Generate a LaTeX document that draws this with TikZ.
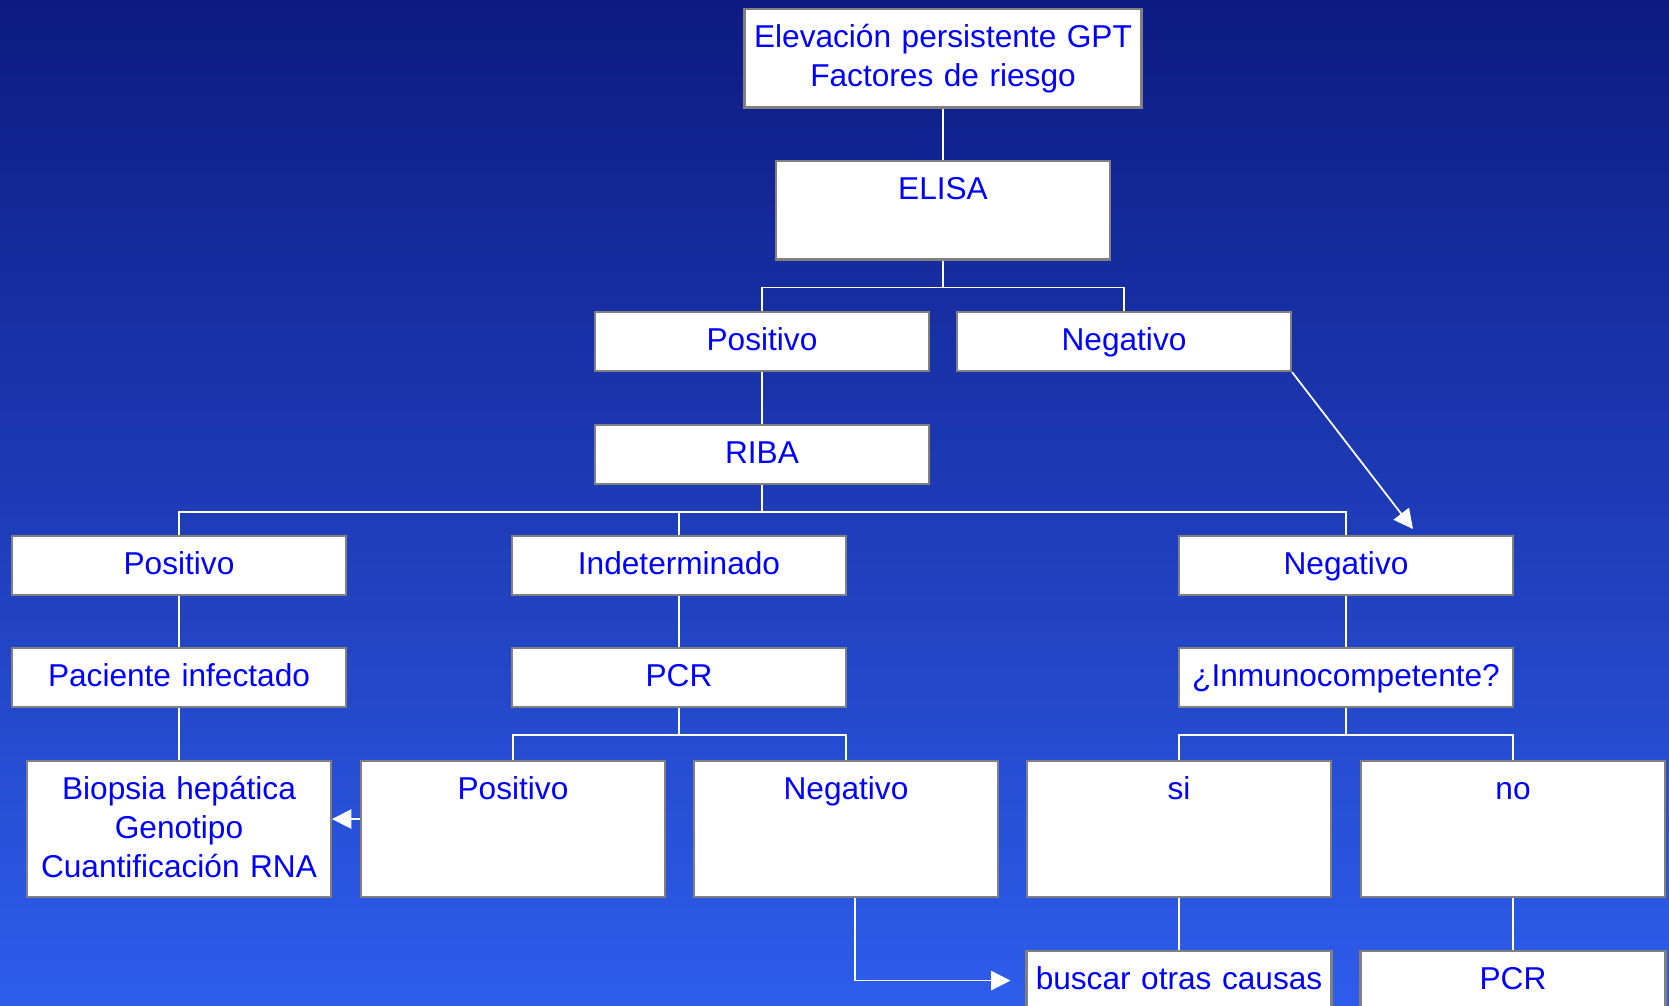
\documentclass[tikz,border=0pt]{standalone}
\usepackage{fontspec}
\setmainfont{Liberation Sans}
\usetikzlibrary{arrows.meta, calc}

\definecolor{bgtop}{RGB}{13,26,130}
\definecolor{bgbottom}{RGB}{46,93,236}
\definecolor{boxline}{RGB}{128,128,128}
\definecolor{boxtext}{RGB}{0,0,255}

\begin{document}
\begin{tikzpicture}[x=0.02cm, y=-0.02cm,
  box/.style={draw=boxline, line width=1.2pt, fill=white, text=boxtext,
    font=\fontsize{18}{22}\selectfont, align=center, anchor=north,
    inner xsep=4pt, inner ysep=8pt, text height=14pt, text depth=3.6pt,
    text width=6.4cm},
  tallbox/.style={box, text depth=26pt},
  bigbox/.style={box, text depth=47.4pt, text width=5.8cm},
  link/.style={draw=white, line width=1pt},
  arr/.style={link, -{Triangle[length=11pt, width=11pt]}}]
  \useasboundingbox (0,0) rectangle (1669,1005);
  % fondo degradado
  \shade[top color=bgtop, bottom color=bgbottom] (0,0) rectangle (1669,1005);

  % cajas (posiciones en px de la lámina)
  \node[tallbox, text width=7.66cm] (gpt) at (943,8) {Elevación persistente GPT\\Factores de riesgo};
  \node[tallbox] (elisa) at (943,160) {ELISA};
  \node[box] (elisapos) at (762,311) {Positivo};
  \node[box] (elisaneg) at (1124,311) {Negativo};
  \node[box] (riba) at (762,424) {RIBA};
  \node[box] (ribapos) at (179,535) {Positivo};
  \node[box] (ribaind) at (679,535) {Indeterminado};
  \node[box] (ribaneg) at (1346,535) {Negativo};
  \node[box] (infect) at (179,647) {Paciente infectado};
  \node[box] (pcr) at (679,647) {PCR};
  \node[box] (inmuno) at (1346,647) {¿Inmunocompetente?};
  \node[bigbox] (biopsia) at (179,760) {Biopsia hepática\\Genotipo\\Cuantificación RNA};
  \node[bigbox] (pcrpos) at (513,760) {Positivo};
  \node[bigbox] (pcrneg) at (846,760) {Negativo};
  \node[bigbox] (si) at (1179,760) {si};
  \node[bigbox] (no) at (1513,760) {no};
  \node[box, text width=5.82cm] (causas) at (1179,950) {buscar otras causas};
  \node[box, text width=5.82cm] (pcr2) at (1513,950) {PCR};

  % ramas del árbol
  \draw[link] (gpt.south) -- (elisa.north);
  \draw[link] (elisa.south) -- ++(0,27) coordinate (bus1) -| (elisapos.north);
  \draw[link] (bus1) -| (elisaneg.north);
  \draw[link] (elisapos.south) -- (riba.north);
  \draw[link] (riba.south) -- ++(0,27) coordinate (bus2) -| (ribapos.north);
  \draw[link] (bus2) -| (ribaind.north);
  \draw[link] (bus2) -| (ribaneg.north);
  \draw[link] (ribapos.south) -- (infect.north);
  \draw[link] (infect.south) -- (biopsia.north);
  \draw[link] (ribaind.south) -- (pcr.north);
  \draw[link] (pcr.south) -- ++(0,27) coordinate (bus3) -| (pcrpos.north);
  \draw[link] (bus3) -| (pcrneg.north);
  \draw[link] (ribaneg.south) -- (inmuno.north);
  \draw[link] (inmuno.south) -- ++(0,27) coordinate (bus4) -| (si.north);
  \draw[link] (bus4) -| (no.north);
  \draw[link] (si.south) -- (causas.north);
  \draw[link] (no.south) -- (pcr2.north);

  % flechas
  \coordinate (negtip) at (1413,529);
  \draw[arr] (elisaneg.south east) -- (negtip);
  \draw[arr] ($(pcrpos.west)+(0,-10)$) -- ($(biopsia.east)+(0,-10)$);
  \draw[arr] ([xshift=0.18cm]pcrneg.south) |- ([xshift=-0.3cm]causas.west);
\end{tikzpicture}
\end{document}
